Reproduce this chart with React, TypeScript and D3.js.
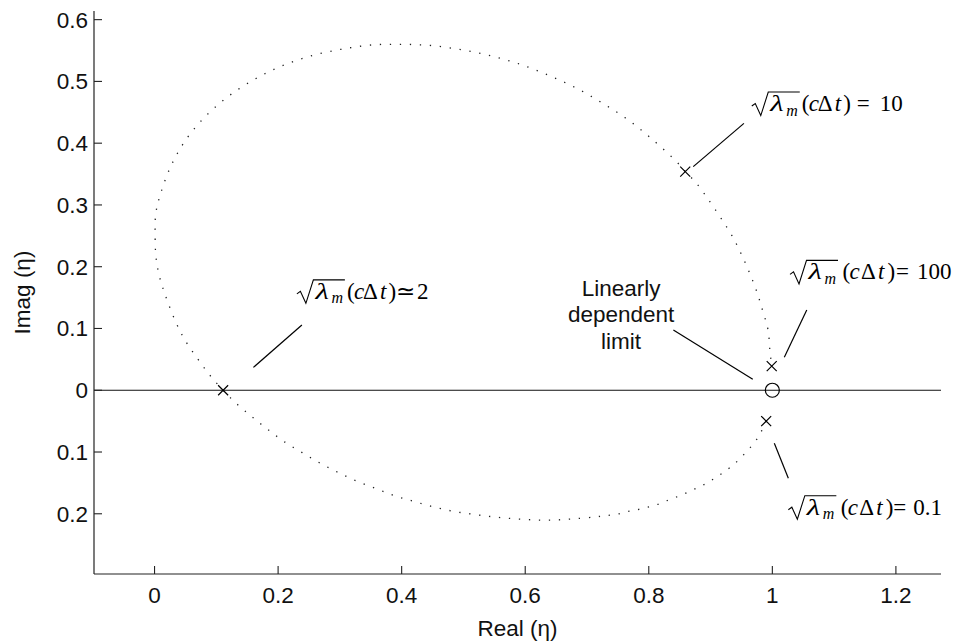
import React from "react";
import * as d3 from "d3";

// Dotted locus of the amplification factor eta (in order of increasing c·dt)
const curveReal = [
  0.99, 0.983, 0.975, 0.964, 0.953, 0.941, 0.929, 0.915, 0.901, 0.887, 0.872, 0.857, 0.842, 0.826, 0.811,
  0.795, 0.779, 0.763, 0.747, 0.73, 0.714, 0.681, 0.648, 0.616, 0.582, 0.549, 0.517, 0.484, 0.452, 0.42,
  0.389, 0.358, 0.327, 0.297, 0.268, 0.239, 0.211, 0.184, 0.159, 0.133, 0.111, 0.089, 0.069, 0.05, 0.035,
  0.017, 0.007, 0.002, 0.001, 0.002, 0.01, 0.027, 0.051, 0.083, 0.121, 0.163, 0.206, 0.252, 0.302, 0.351,
  0.4, 0.449, 0.498, 0.546, 0.594, 0.64, 0.685, 0.728, 0.769, 0.807, 0.844, 0.859, 0.878, 0.933, 0.948,
  0.961, 0.974, 0.984, 0.993, 0.996, 0.999,
];
const curveImag = [
  -0.05, -0.065, -0.079, -0.093, -0.105, -0.117, -0.127, -0.137, -0.146, -0.154, -0.161, -0.168, -0.174, -0.18, -0.186,
  -0.19, -0.194, -0.197, -0.201, -0.203, -0.205, -0.208, -0.21, -0.21, -0.208, -0.205, -0.201, -0.196, -0.189, -0.18,
  -0.171, -0.159, -0.147, -0.133, -0.118, -0.101, -0.084, -0.064, -0.044, -0.022, 0.0, 0.025, 0.052, 0.08, 0.109,
  0.155, 0.188, 0.219, 0.254, 0.286, 0.319, 0.364, 0.406, 0.444, 0.477, 0.504, 0.525, 0.541, 0.552, 0.559,
  0.56, 0.558, 0.551, 0.541, 0.527, 0.509, 0.488, 0.463, 0.436, 0.405, 0.371, 0.354, 0.334, 0.253, 0.224,
  0.195, 0.162, 0.13, 0.098, 0.065, 0.039,
];

// Marked points (x) and the linearly dependent limit (o)
const markerReal = [0.111, 0.859, 0.999, 0.99];
const markerImag = [0.0, 0.354, 0.039, -0.05];
const limitReal = [1.0];
const limitImag = [0.0];

const xTickValues = [0, 0.2, 0.4, 0.6, 0.8, 1, 1.2];
const xTickLabels = ["0", "0.2", "0.4", "0.6", "0.8", "1", "1.2"];
const yTickValues = [-0.2, -0.1, 0, 0.1, 0.2, 0.3, 0.4, 0.5, 0.6];
const yTickLabels = ["0.2", "0.1", "0", "0.1", "0.2", "0.3", "0.4", "0.5", "0.6"];

const annotationRelations = ["=", "\u2243", "=", "="];
const annotationValues = ["10", "2", "100", "0.1"];
const limitLabelLines = ["Linearly", "dependent", "limit"];

const W = 955;
const H = 643;
const SANS = "'Liberation Sans', Arial, Helvetica, sans-serif";
const SERIF = "'Liberation Serif', 'Times New Roman', serif";
const FS = 22.5;

const x = d3.scaleLinear().domain([-0.098, 1.273]).range([94, 941]);
const y = d3.scaleLinear().domain([-0.2975, 0.614]).range([574, 11]);

type MathProps = {
  px: number;
  py: number;
  wide: boolean;
  rel: string;
  relX: number;
  val: string;
  valX: number;
};

function MathLabel({ px, py, wide, rel, relX, val, valX }: MathProps) {
  const o = wide ? [2.5, 2.5, 5, 5, 6] : [0, 0, 0, 0, 0];
  return (
    <g transform={`translate(${px},${py})`} fill="#000" fontFamily={SERIF} fontSize={23}>
      <path d="M0,-5 L3.5,-7.5 L9,4.5 L16.5,-19 H48" fill="none" stroke="#000" strokeWidth={1.1} />
      <text transform="translate(18.5,0) scale(1.35,1)" fontStyle="italic">λ</text>
      <text x={34.5} y={4.5} fontStyle="italic" fontSize={16}>m</text>
      <text x={50 + o[0]} y={0}>(</text>
      <text x={57 + o[1]} y={0} fontStyle="italic">c</text>
      <text x={66 + o[2]} y={0}>Δ</text>
      <text x={83 + o[3]} y={0} fontStyle="italic">t</text>
      <text x={91.5 + o[4]} y={0}>)</text>
      <text x={relX} y={0}>{rel}</text>
      <text x={valX} y={0}>{val}</text>
    </g>
  );
}

export default function App() {
  const line = d3
    .line<number>()
    .x((_, i) => x(curveReal[i]))
    .y((_, i) => y(curveImag[i]))
    .curve(d3.curveCatmullRom.alpha(0.5));
  const curvePath = line(curveReal) || "";

  const y0 = y(0);
  const axisColor = "#222";

  // annotation anchors, in data units
  const labels = [
    { ax: 0.9667, ay: 0.452, wide: false, relX: 105, valX: 128 },
    { ax: 0.2304, ay: 0.148, wide: false, relX: 99, valX: 120 },
    { ax: 1.0286, ay: 0.1795, wide: true, relX: 106, valX: 127 },
    { ax: 1.0259, ay: -0.2015, wide: true, relX: 105, valX: 125 },
  ];
  const leaders = [
    [0.954, 0.432, 0.872, 0.362],
    [0.16, 0.037, 0.2385, 0.1057],
    [1.0557, 0.13, 1.0194, 0.0534],
    [1.0032, -0.0858, 1.0259, -0.1424],
    [0.8398, 0.0976, 0.9683, 0.0178],
  ];

  return (
    <svg
      width={W}
      height={H}
      viewBox={`0 0 ${W} ${H}`}
      style={{ position: "absolute", left: 0, top: 0, background: "#fff" }}
    >
      <rect x={0} y={0} width={W} height={H} fill="#fff" />

      {/* zero line */}
      <line x1={x.range()[0]} x2={x.range()[1]} y1={y0} y2={y0} stroke="#111" strokeWidth={1.2} />

      {/* axes */}
      <line x1={x.range()[0]} x2={x.range()[1]} y1={y.range()[0]} y2={y.range()[0]} stroke={axisColor} strokeWidth={1.2} />
      <line x1={x.range()[0]} x2={x.range()[0]} y1={y.range()[0]} y2={y.range()[1]} stroke={axisColor} strokeWidth={1.2} />

      {xTickValues.map((v, i) => (
        <g key={"xt" + i}>
          <line x1={x(v)} x2={x(v)} y1={y.range()[0]} y2={y.range()[0] - 8} stroke={axisColor} strokeWidth={1.1} />
          <text x={x(v)} y={y.range()[0] + 28.5} textAnchor="middle" fontFamily={SANS} fontSize={FS} fill="#111">
            {xTickLabels[i]}
          </text>
        </g>
      ))}
      {yTickValues.map((v, i) => (
        <g key={"yt" + i}>
          <line x1={x.range()[0]} x2={x.range()[0] + 8} y1={y(v)} y2={y(v)} stroke={axisColor} strokeWidth={1.1} />
          <text x={88} y={y(v) + 8} textAnchor="end" fontFamily={SANS} fontSize={FS} fill="#111">
            {yTickLabels[i]}
          </text>
        </g>
      ))}

      {/* axis titles */}
      <text x={(x.range()[0] + x.range()[1]) / 2} y={636} textAnchor="middle" fontFamily={SANS} fontSize={FS} fill="#111">
        Real (η)
      </text>
      <text
        transform={`translate(29.5,${(y.range()[0] + y.range()[1]) / 2}) rotate(-90)`}
        textAnchor="middle"
        fontFamily={SANS}
        fontSize={FS}
        fill="#111"
      >
        Imag (η)
      </text>

      {/* dotted locus */}
      <path d={curvePath} fill="none" stroke="#222" strokeWidth={1.3} strokeDasharray="1.3 8.7" />

      {/* x markers */}
      {markerReal.map((v, i) => {
        const cx = x(v);
        const cy = y(markerImag[i]);
        const s = 5;
        return (
          <path
            key={"m" + i}
            d={`M${cx - s},${cy - s}L${cx + s},${cy + s}M${cx - s},${cy + s}L${cx + s},${cy - s}`}
            stroke="#000"
            strokeWidth={1.2}
          />
        );
      })}
      {limitReal.map((v, i) => (
        <circle key={"c" + i} cx={x(v)} cy={y(limitImag[i])} r={7} fill="none" stroke="#000" strokeWidth={1.2} />
      ))}

      {/* leader lines */}
      {leaders.map((l, i) => (
        <line key={"l" + i} x1={x(l[0])} y1={y(l[1])} x2={x(l[2])} y2={y(l[3])} stroke="#000" strokeWidth={1.2} />
      ))}

      {/* math annotations */}
      {labels.map((a, i) => (
        <MathLabel
          key={"a" + i}
          px={x(a.ax)}
          py={y(a.ay)}
          wide={a.wide}
          rel={annotationRelations[i]}
          relX={a.relX}
          val={annotationValues[i]}
          valX={a.valX}
        />
      ))}

      {/* linearly dependent limit label */}
      {limitLabelLines.map((t, i) => (
        <text
          key={"ll" + i}
          x={x(0.7552)}
          y={y(0.1526) + i * 26.5}
          textAnchor="middle"
          fontFamily={SANS}
          fontSize={FS}
          fill="#111"
        >
          {t}
        </text>
      ))}
    </svg>
  );
}
